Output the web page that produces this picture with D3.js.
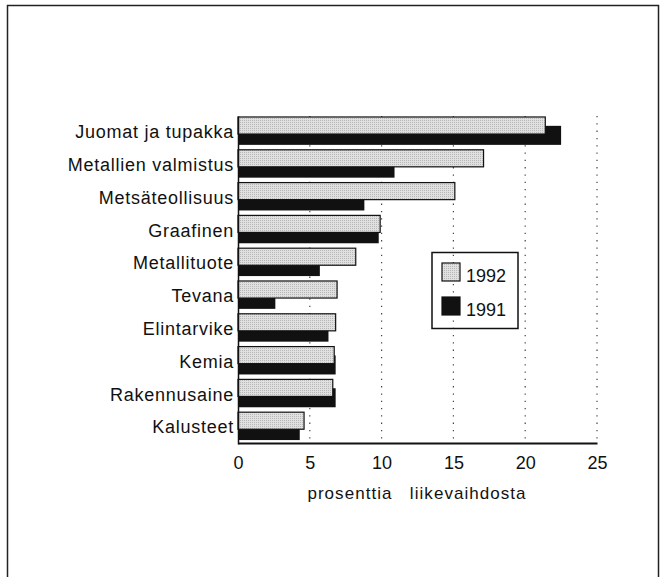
<!DOCTYPE html>
<html>
<head>
<meta charset="utf-8">
<script src="https://cdn.jsdelivr.net/npm/d3@7"></script>
<style>
  body { margin: 0; background: #fff; }
  svg text { font-family: "Liberation Sans", Arial, Helvetica, sans-serif; fill: #111; }
</style>
</head>
<body>
<div id="chart"></div>
<script>

// data (percent of turnover)
var categories = ["Juomat ja tupakka", "Metallien valmistus", "Metsäteollisuus", "Graafinen",
                  "Metallituote", "Tevana", "Elintarvike", "Kemia", "Rakennusaine", "Kalusteet"];
var values_1992 = [21.4, 17.1, 15.1, 9.9, 8.2, 6.9, 6.8, 6.7, 6.6, 4.6];
var values_1991 = [22.5, 10.9, 8.8, 9.8, 5.7, 2.6, 6.3, 6.8, 6.8, 4.3];
var x_ticks = [0, 5, 10, 15, 20, 25];
var grid_ticks = [5, 10, 15, 20, 25];
var legend_labels = ["1992", "1991"];
var axis_title = "prosenttia   liikevaihdosta";

var width = 665, height = 577;

var svg = d3.select("#chart")
  .append("svg")
  .attr("width", width)
  .attr("height", height);

// stippled grey fill like the old print
var defs = svg.append("defs");
var pat = defs.append("pattern")
  .attr("id", "stipple")
  .attr("width", 2).attr("height", 2)
  .attr("patternUnits", "userSpaceOnUse");
pat.append("rect").attr("width", 2).attr("height", 2).attr("fill", "#e0e0e0");
pat.append("rect").attr("width", 1).attr("height", 1).attr("fill", "#b8b8b8");

// outer frame (bottom edge runs off the page)
svg.append("rect")
  .attr("x", 7.5).attr("y", 5.5)
  .attr("width", 651).attr("height", 620)
  .attr("fill", "none")
  .attr("stroke", "#222")
  .attr("stroke-width", 1.5);

var x = d3.scaleLinear()
  .domain([0, 25])
  .range([238, 597]);

var y = d3.scaleBand()
  .domain(categories)
  .range([116, 444])
  .padding(0);

var bw = y.bandwidth();

// dotted gridlines
svg.append("g")
  .selectAll("line")
  .data(grid_ticks)
  .enter()
  .append("line")
    .attr("x1", d => x(d)).attr("x2", d => x(d))
    .attr("y1", 116).attr("y2", 443)
    .attr("stroke", "#444")
    .attr("stroke-width", 1.2)
    .attr("stroke-dasharray", "1.3,6");

var rows = categories.map((c, i) => ({name: c, v92: values_1992[i], v91: values_1991[i]}));

// 1991 bars sit behind, 1992 bars overlap their top
svg.append("g")
  .selectAll("rect")
  .data(rows)
  .enter()
  .append("rect")
    .attr("x", x(0))
    .attr("y", d => y(d.name) + bw * 0.30)
    .attr("width", d => x(d.v91) - x(0))
    .attr("height", bw * 0.58)
    .attr("fill", "#111");

svg.append("g")
  .selectAll("rect")
  .data(rows)
  .enter()
  .append("rect")
    .attr("x", x(0))
    .attr("y", d => y(d.name) + bw * 0.03)
    .attr("width", d => x(d.v92) - x(0))
    .attr("height", bw * 0.52)
    .attr("fill", "url(#stipple)")
    .attr("stroke", "#111")
    .attr("stroke-width", 1.2);

// axes
var xAxis = svg.append("g")
  .attr("transform", "translate(0,443)")
  .call(d3.axisBottom(x).tickValues(x_ticks).tickSize(0).tickPadding(13).tickFormat(d3.format("d")));
xAxis.select(".domain").attr("stroke", "#111").attr("stroke-width", 2);
xAxis.selectAll("text").style("font-size", "18px").attr("fill", "#111");

var yAxis = svg.append("g")
  .attr("transform", "translate(238,0)")
  .call(d3.axisLeft(y).tickSize(0).tickPadding(4));
yAxis.select(".domain").attr("stroke", "#111").attr("stroke-width", 1.5);
yAxis.selectAll("text")
  .style("font-size", "18px")
  .style("letter-spacing", "0.75px")
  .attr("fill", "#111");

svg.append("text")
  .attr("x", 417).attr("y", 499)
  .attr("text-anchor", "middle")
  .attr("xml:space", "preserve")
  .style("white-space", "pre")
  .style("font-size", "17px")
  .style("letter-spacing", "1.05px")
  .text(axis_title);

// legend
var lg = svg.append("g");
lg.append("rect")
  .attr("x", 432).attr("y", 252.5)
  .attr("width", 86).attr("height", 76)
  .attr("fill", "none")
  .attr("stroke", "#111")
  .attr("stroke-width", 1.5);

var lgFill = ["url(#stipple)", "#111"];
legend_labels.forEach(function(lab, i) {
  var yy = 263 + i * 34;
  lg.append("rect")
    .attr("x", 442).attr("y", yy)
    .attr("width", 18).attr("height", 18)
    .attr("fill", lgFill[i])
    .attr("stroke", "#111")
    .attr("stroke-width", 1.2);
  lg.append("text")
    .attr("x", 466).attr("y", yy + 18.5)
    .style("font-size", "18px")
    .text(lab);
});

</script>
</body>
</html>
